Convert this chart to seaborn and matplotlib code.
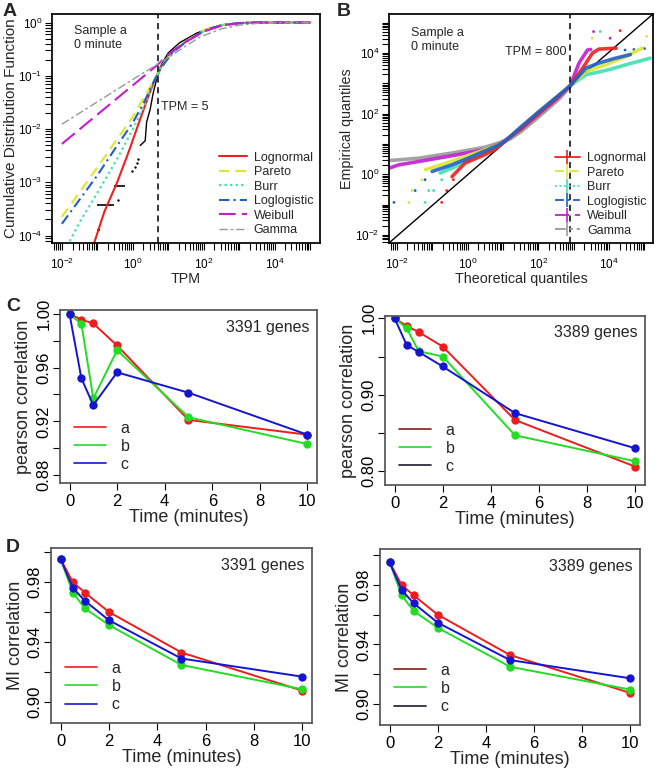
import numpy as np
import pandas as pd
import seaborn as sns
import matplotlib.pyplot as plt
from matplotlib.lines import Line2D
from matplotlib.ticker import LogLocator, FuncFormatter, NullLocator, FixedLocator

# ---- panel A: CDF of TPM, values as log10(TPM), log10(CDF)
A_LOGNORMAL_X = [-1.12, -0.8, -0.44, -0.1, 0.11, 0.35, 0.6, 0.8, 1.1, 1.5, 2.0, 2.5, 3.0, 3.5, 5.0]
A_LOGNORMAL_Y = [-4.2, -3.55, -3.0, -2.4, -2.0, -1.55, -1.1, -0.82, -0.56, -0.36, -0.16, -0.05, -0.01, 0.0, 0.0]
A_PARETO_X = [-2.0, -1.0, 0.0, 0.6, 0.8, 1.1, 1.5, 2.0, 2.5, 3.0, 3.5, 5.0]
A_PARETO_Y = [-3.65, -2.72, -1.77, -1.08, -0.84, -0.57, -0.35, -0.15, -0.05, -0.01, 0.0, 0.0]
A_BURR_X = [-1.85, -1.5, -1.0, -0.44, 0.0, 0.3, 0.6, 0.8, 1.1, 1.5, 2.0, 2.5, 3.0, 3.5, 5.0]
A_BURR_Y = [-4.2, -3.75, -3.2, -2.56, -2.0, -1.6, -1.1, -0.84, -0.58, -0.36, -0.16, -0.05, -0.01, 0.0, 0.0]
A_LOGLOGISTIC_X = [-2.0, -1.0, -0.44, 0.0, 0.3, 0.6, 0.8, 1.1, 1.5, 2.0, 2.5, 3.0, 3.5, 5.0]
A_LOGLOGISTIC_Y = [-3.78, -2.87, -2.31, -1.88, -1.52, -1.1, -0.85, -0.58, -0.36, -0.16, -0.05, -0.01, 0.0, 0.0]
A_WEIBULL_X = [-2.0, -1.0, 0.0, 0.69, 1.0, 1.5, 2.0, 2.5, 3.0, 3.5, 5.0]
A_WEIBULL_Y = [-2.28, -1.73, -1.18, -0.80, -0.6, -0.36, -0.17, -0.06, -0.015, 0.0, 0.0]
A_GAMMA_X = [-2.0, -1.0, 0.0, 0.69, 1.0, 1.5, 1.9, 2.5, 3.0, 3.3, 3.7, 5.0]
A_GAMMA_Y = [-1.91, -1.49, -1.07, -0.785, -0.66, -0.44, -0.27, -0.12, -0.05, -0.03, -0.005, 0.0]

# empirical CDF (black)
A_EMP_X = [0.21, 0.35, 0.39, 0.49, 0.58, 0.67, 0.81, 1.0, 1.32, 1.8, 2.2, 2.6, 3.0, 3.5, 4.5]
A_EMP_Y = [-2.31, -2.22, -1.87, -1.63, -1.31, -1.07, -0.79, -0.57, -0.38, -0.2, -0.1, -0.04, -0.01, 0.0, 0.0]
A_STEP_Y = [-3.89, -3.43, -3.07]
A_STEP_X0 = [-1.0, -1.0, -0.54]
A_STEP_X1 = [-0.93, -0.54, -0.21]
A_DOT_X = [-0.43, -0.03, 0.07, 0.12, 0.16]
A_DOT_Y = [-3.34, -2.78, -2.72, -2.64, -2.56]

# ---- panel B: QQ plot, log10(theoretical), log10(empirical)
B_LOGNORMAL_X = [-0.44, -0.07, 0.4, 0.77, 1.05, 1.5, 2.0, 2.5, 2.9, 3.25, 3.53, 3.71, 4.0, 4.2]
B_LOGNORMAL_Y = [-0.08, 0.37, 0.6, 0.81, 1.08, 1.5, 2.0, 2.5, 2.92, 3.5, 4.0, 4.13, 4.15, 4.16]
B_PARETO_X = [-1.19, -0.7, -0.2, 0.3, 0.77, 1.05, 1.5, 2.0, 2.5, 2.9, 3.34, 3.9, 4.46, 4.93]
B_PARETO_Y = [0.15, 0.33, 0.53, 0.73, 0.93, 1.08, 1.55, 2.05, 2.53, 2.92, 3.39, 3.61, 3.88, 4.16]
B_BURR_X = [-0.77, -0.4, -0.07, 0.4, 0.77, 1.05, 1.5, 2.0, 2.5, 2.9, 3.34, 3.99, 4.65, 5.16]
B_BURR_Y = [0.04, 0.22, 0.42, 0.65, 0.86, 1.07, 1.53, 2.04, 2.53, 2.92, 3.28, 3.45, 3.67, 3.83]
B_LOGLOGISTIC_X = [-1.0, -0.44, 0.12, 0.77, 1.05, 1.5, 2.0, 2.5, 2.9, 3.34, 3.71, 4.18, 4.6]
B_LOGLOGISTIC_Y = [0.09, 0.31, 0.58, 0.91, 1.08, 1.55, 2.05, 2.53, 2.92, 3.50, 3.67, 3.83, 3.95]
B_WEIBULL_X = [-2.22, -1.94, -1.38, -0.44, 0.49, 0.91, 1.5, 2.0, 2.5, 2.9, 3.15, 3.39, 3.48]
B_WEIBULL_Y = [0.20, 0.31, 0.42, 0.61, 0.81, 1.0, 1.48, 1.98, 2.47, 2.92, 3.67, 4.1, 4.12]
B_GAMMA_X = [-2.22, -1.38, -0.44, 0.49, 0.87, 1.2, 1.5, 2.0, 2.31, 2.6, 2.9]
B_GAMMA_Y = [0.45, 0.53, 0.70, 0.89, 1.03, 1.16, 1.40, 1.88, 2.2, 2.5, 2.9]

B_DOT_X = [-2.08, -1.66, -1.2, -0.73, -1.57, -1.48, -1.10, -0.96, -0.59, -1.29, -1.2, -0.73, -0.40,
           3.56, 3.75, 4.31, 3.52, 4.03, 4.45, 4.7, 5.0, 5.06]
B_DOT_Y = [-0.93, -0.93, -0.93, -0.93, -0.54, -0.54, -0.54, -0.54, -0.54, -0.18, -0.18, -0.18, -0.18,
           4.71, 4.71, 4.74, 4.49, 4.49, 4.1, 4.12, 4.15, 4.55]
B_DOT_FIT = ['Loglogistic', 'Pareto', 'Burr', 'Lognormal', 'Pareto', 'Loglogistic', 'Burr', 'Burr',
             'Lognormal', 'Pareto', 'Loglogistic', 'Burr', 'Lognormal',
             'Weibull', 'Burr', 'Lognormal', 'Pareto', 'Weibull', 'Loglogistic', 'Loglogistic',
             'Loglogistic', 'Pareto']

FITS = ['Lognormal', 'Pareto', 'Burr', 'Loglogistic', 'Weibull', 'Gamma']

# ---- panels C and D
TIMES = [0, 0.5, 1, 2, 5, 10]
C_LEFT_A = [1.000, 0.9958, 0.9929, 0.9765, 0.921, 0.910]
C_LEFT_B = [1.000, 0.9926, 0.937, 0.973, 0.923, 0.903]
C_LEFT_C = [1.000, 0.952, 0.932, 0.9565, 0.9413, 0.910]
C_RIGHT_A = [1.000, 0.990, 0.982, 0.963, 0.867, 0.806]
C_RIGHT_B = [1.000, 0.987, 0.957, 0.950, 0.847, 0.813]
C_RIGHT_C = [1.000, 0.965, 0.956, 0.937, 0.876, 0.830]
D_LEFT_A = [0.9953, 0.980, 0.973, 0.960, 0.933, 0.9075]
D_LEFT_B = [0.9953, 0.973, 0.9625, 0.9513, 0.9247, 0.9085]
D_LEFT_C = [0.9953, 0.9762, 0.9675, 0.9545, 0.929, 0.9169]
D_RIGHT_A = [0.9953, 0.980, 0.973, 0.960, 0.9328, 0.9072]
D_RIGHT_B = [0.9953, 0.973, 0.9625, 0.9512, 0.9249, 0.9095]
D_RIGHT_C = [0.9953, 0.9766, 0.9677, 0.9546, 0.9294, 0.9171]
SAMPLES = ['a', 'b', 'c']

sns.set_theme(style="ticks")
plt.rcParams['font.family'] = ['Liberation Sans', 'DejaVu Sans']
plt.rcParams.update({'mathtext.fontset': 'custom', 'mathtext.rm': 'Liberation Sans',
                     'mathtext.default': 'regular', 'axes.edgecolor': 'black',
                     'xtick.color': 'black', 'ytick.color': 'black',
                     'xtick.major.size': 5, 'ytick.major.size': 5,
                     'xtick.major.width': 0.8, 'ytick.major.width': 0.8})

fit_colors = {'Lognormal': '#ee2020', 'Pareto': '#dde633', 'Burr': '#3ee0b0',
              'Loglogistic': '#2060c8', 'Weibull': '#c21ecf', 'Gamma': '#999999'}
fit_styles = {'Lognormal': '-', 'Pareto': (0, (5, 3)), 'Burr': (0, (1, 1.5)),
              'Loglogistic': (0, (5, 2, 1, 2)), 'Weibull': (0, (8, 3)), 'Gamma': (0, (6, 2, 2, 2))}
fit_widths = {'Lognormal': 1.5, 'Pareto': 1.5, 'Burr': 1.6, 'Loglogistic': 1.5, 'Weibull': 1.5, 'Gamma': 1.0}
sample_colors = {'a': '#ee1c1c', 'b': '#22dd22', 'c': '#1515d0'}

fig = plt.figure(figsize=(6.57, 7.77), dpi=100)
axA = fig.add_axes([0.0791, 0.6873, 0.4079, 0.2947])
axB = fig.add_axes([0.5921, 0.6873, 0.4018, 0.2947])
axC1 = fig.add_axes([0.0913, 0.3784, 0.3912, 0.2227])
axC2 = fig.add_axes([0.5860, 0.3758, 0.3957, 0.2175])
axD1 = fig.add_axes([0.0776, 0.0695, 0.3973, 0.2252])
axD2 = fig.add_axes([0.5784, 0.0669, 0.3957, 0.2265])


def pow10(v):
    return 10 ** np.asarray(v, dtype=float)


def log_axis(axis, shown):
    def fmt(v, pos):
        lp = np.log10(v)
        if abs(lp - round(lp)) < 1e-6 and int(round(lp)) in shown:
            return r'$10^{%d}$' % int(round(lp))
        return ''
    axis.set_major_locator(LogLocator(base=10, subs=np.arange(1, 10), numticks=200))
    axis.set_minor_locator(NullLocator())
    axis.set_major_formatter(FuncFormatter(fmt))


# ---- A
a_curves = {'Lognormal': (A_LOGNORMAL_X, A_LOGNORMAL_Y), 'Pareto': (A_PARETO_X, A_PARETO_Y),
            'Burr': (A_BURR_X, A_BURR_Y), 'Loglogistic': (A_LOGLOGISTIC_X, A_LOGLOGISTIC_Y),
            'Weibull': (A_WEIBULL_X, A_WEIBULL_Y), 'Gamma': (A_GAMMA_X, A_GAMMA_Y)}
sns.lineplot(x=pow10(A_EMP_X), y=pow10(A_EMP_Y), ax=axA, color='black', lw=1.0, estimator=None)
axA.hlines(pow10(A_STEP_Y), pow10(A_STEP_X0), pow10(A_STEP_X1), color='black', lw=1.2)
sns.scatterplot(x=pow10(A_DOT_X), y=pow10(A_DOT_Y), ax=axA, color='black', s=3, linewidth=0)
for f in FITS:
    x, y = a_curves[f]
    sns.lineplot(x=pow10(x), y=pow10(y), ax=axA, color=fit_colors[f], linestyle=fit_styles[f],
                 lw=fit_widths[f], estimator=None)
axA.set_xscale('log')
axA.set_yscale('log')
axA.set_xlim(10 ** -2.28, 10 ** 5.28)
axA.set_ylim(10 ** -4.14, 10 ** 0.16)
log_axis(axA.xaxis, [-2, 0, 2, 4])
log_axis(axA.yaxis, [-4, -3, -2, -1, 0])
axA.axvline(5, color='black', ls=(0, (4, 3)), lw=1.1)
axA.tick_params(axis='x', labelsize=8.5, pad=5)
axA.tick_params(axis='y', labelsize=8.5, pad=2)
axA.set_xlabel('TPM', fontsize=10.3, labelpad=0)
axA.set_ylabel('Cumulative Distribution Function', fontsize=11)
axA.yaxis.set_label_coords(-0.128, 0.5)
axA.text(0.082, 0.952, 'Sample a\n0 minute', transform=axA.transAxes, ha='left', va='top',
         fontsize=9, linespacing=1.25)
axA.text(0.407, 0.594, 'TPM = 5', transform=axA.transAxes, ha='left', va='center', fontsize=9)
handles = [Line2D([], [], color=fit_colors[f], ls=fit_styles[f], lw=fit_widths[f]) for f in FITS]
axA.legend(handles, FITS, loc='lower right', frameon=False, fontsize=9, handlelength=2.3,
           handletextpad=0.5, labelspacing=0.2, borderaxespad=0.15)

# ---- B
b_curves = {'Lognormal': (B_LOGNORMAL_X, B_LOGNORMAL_Y), 'Pareto': (B_PARETO_X, B_PARETO_Y),
            'Burr': (B_BURR_X, B_BURR_Y), 'Loglogistic': (B_LOGLOGISTIC_X, B_LOGLOGISTIC_Y),
            'Weibull': (B_WEIBULL_X, B_WEIBULL_Y), 'Gamma': (B_GAMMA_X, B_GAMMA_Y)}
axB.set_xscale('log')
axB.set_yscale('log')
axB.set_xlim(10 ** -2.22, 10 ** 5.24)
axB.set_ylim(10 ** -2.27, 10 ** 5.29)
axB.plot([10 ** -2.22, 10 ** 5.24], [10 ** -2.27, 10 ** 5.29], color='black', lw=1.0)
for f in ['Gamma', 'Weibull', 'Burr', 'Pareto', 'Lognormal', 'Loglogistic']:
    x, y = b_curves[f]
    sns.lineplot(x=pow10(x), y=pow10(y), ax=axB, color=fit_colors[f], lw=2.6, estimator=None,
                 alpha=0.9)
dots = pd.DataFrame({'x': pow10(B_DOT_X), 'y': pow10(B_DOT_Y), 'fit': B_DOT_FIT})
sns.scatterplot(data=dots, x='x', y='y', hue='fit', palette=fit_colors, ax=axB, s=4,
                linewidth=0, legend=False)
log_axis(axB.xaxis, [-2, 0, 2, 4])
log_axis(axB.yaxis, [-2, 0, 2, 4])
axB.axvline(800, color='black', ls=(0, (4, 3)), lw=1.1)
axB.tick_params(axis='x', labelsize=8.5, pad=5)
axB.tick_params(axis='y', labelsize=8.5, pad=2)
axB.set_xlabel('Theoretical quantiles', fontsize=10.3, labelpad=0)
axB.set_ylabel('Empirical quantiles', fontsize=10.3)
axB.yaxis.set_label_coords(-0.133, 0.5)
axB.text(0.083, 0.945, 'Sample a\n0 minute', transform=axB.transAxes, ha='left', va='top',
         fontsize=9, linespacing=1.25)
axB.text(0.672, 0.834, 'TPM = 800', transform=axB.transAxes, ha='right', va='center', fontsize=9)
handles = [Line2D([], [], color=fit_colors[f], ls=fit_styles[f], lw=1.3, marker='|',
                  markersize=10, markeredgewidth=1.2) for f in FITS]
axB.legend(handles, FITS, loc='lower right', frameon=False, fontsize=9, handlelength=2.0,
           handletextpad=0.6, labelspacing=0.2, borderaxespad=0.1)


# ---- C and D
def time_panel(ax, series, genes, ylim, ticks, labelled, ylabel, legend_colors, label_x):
    df = pd.DataFrame({'time': TIMES * 3,
                       'value': series[0] + series[1] + series[2],
                       'sample': [s for s in SAMPLES for _ in TIMES]})
    sns.lineplot(data=df, x='time', y='value', hue='sample', palette=sample_colors, ax=ax,
                 marker='o', markersize=6, markeredgewidth=0, lw=1.4, legend=False,
                 estimator=None)
    ax.set_xlim(-0.4, 10.4)
    ax.set_ylim(*ylim)
    ax.set_xticks([0, 2, 4, 6, 8, 10])
    ax.yaxis.set_major_locator(FixedLocator(ticks))
    ax.yaxis.set_major_formatter(FuncFormatter(
        lambda v, p: ('%.2f' % v) if any(abs(v - l) < 1e-9 for l in labelled) else ''))
    for lab in ax.get_yticklabels():
        lab.set_rotation(90)
        lab.set_va('center')
    ax.tick_params(labelsize=12, pad=2)
    ax.tick_params(axis='x', pad=3)
    ax.tick_params(axis='y', pad=1)
    for sp in ax.spines.values():
        sp.set_color('#555555')
    ax.set_xlabel('Time (minutes)', fontsize=13, labelpad=0)
    ax.set_ylabel(ylabel, fontsize=13)
    ax.yaxis.set_label_coords(label_x, 0.5)
    ax.text(0.97, 0.9, genes + ' genes', transform=ax.transAxes, ha='right', va='center',
            fontsize=11.5)
    handles = [Line2D([], [], color=c, lw=1.2) for c in legend_colors]
    ax.legend(handles, SAMPLES, loc='lower left', bbox_to_anchor=(0.0, -0.02), frameon=False,
              fontsize=11.5, handlelength=2.0, handletextpad=0.9, labelspacing=0.2)


left_leg = [sample_colors[s] for s in SAMPLES]
right_leg = ['#8b1a1a', '#22dd22', '#1a1a30']
time_panel(axC1, [C_LEFT_A, C_LEFT_B, C_LEFT_C], '3391', (0.874, 1.003),
           [0.88, 0.90, 0.92, 0.94, 0.96, 0.98, 1.00], [0.88, 0.92, 0.96, 1.00],
           'pearson correlation', left_leg, -0.108)
time_panel(axC2, [C_RIGHT_A, C_RIGHT_B, C_RIGHT_C], '3389', (0.782, 1.003),
           [0.80, 0.85, 0.90, 0.95, 1.00], [0.80, 0.90, 1.00],
           'pearson correlation', right_leg, -0.106)
time_panel(axD1, [D_LEFT_A, D_LEFT_B, D_LEFT_C], '3391', (0.886, 1.0027),
           [0.90, 0.92, 0.94, 0.96, 0.98, 1.00], [0.90, 0.94, 0.98],
           'MI correlation', left_leg, -0.105)
time_panel(axD2, [D_RIGHT_A, D_RIGHT_B, D_RIGHT_C], '3389', (0.8856, 1.0043),
           [0.90, 0.92, 0.94, 0.96, 0.98, 1.00], [0.90, 0.94, 0.98],
           'MI correlation', right_leg, -0.103)

for lab, x, y in [('A', 0.004, 0.985), ('B', 0.512, 0.985), ('C', 0.010, 0.606), ('D', 0.008, 0.296)]:
    fig.text(x, y, lab, fontsize=14, fontweight='bold', ha='left', va='center')

fig.savefig('out.png', dpi=100)
